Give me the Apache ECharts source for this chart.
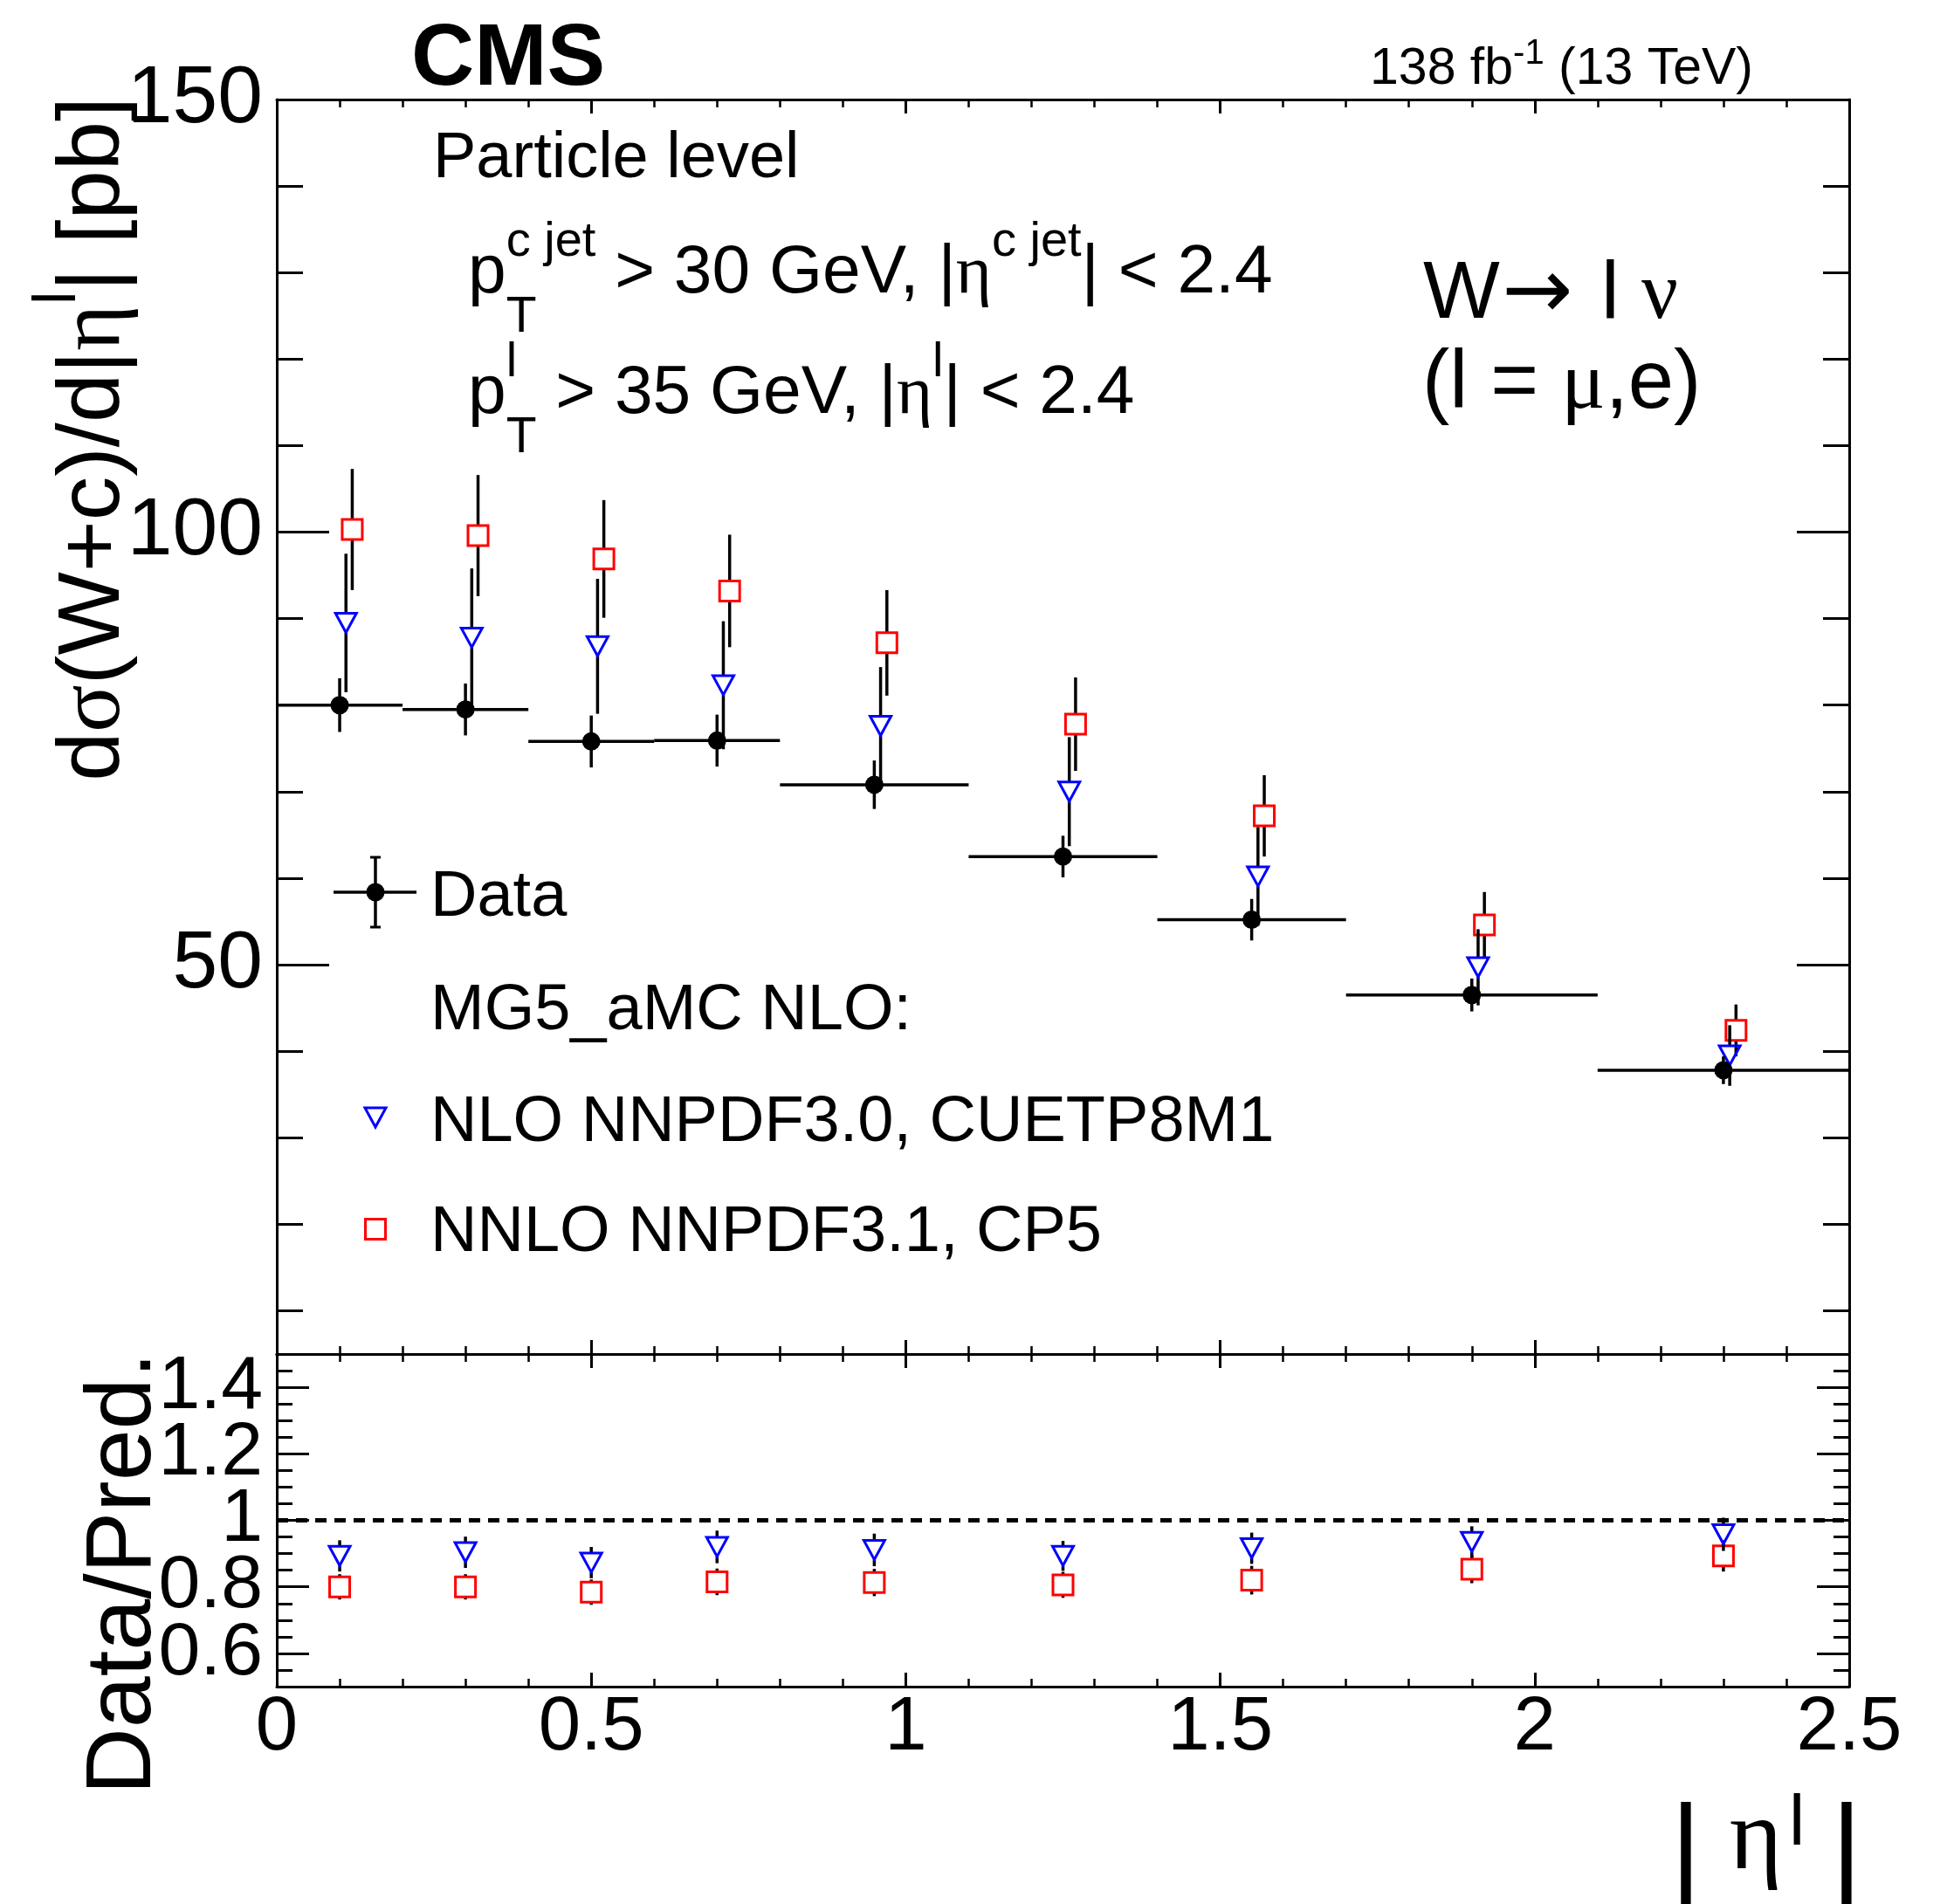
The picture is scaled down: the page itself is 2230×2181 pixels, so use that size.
<!DOCTYPE html>
<html><head><meta charset="utf-8">
<script src="https://cdn.jsdelivr.net/npm/echarts@6/dist/echarts.min.js"></script>
<style>html,body{margin:0;padding:0;background:#fff}#c{width:2230px;height:2181px}</style>
</head><body><div id="c"></div>
<script>
// ---------------- data ----------------
const binLo   = [0, 0.2, 0.4, 0.6, 0.8, 1.1, 1.4, 1.7, 2.1];
const binHi   = [0.2, 0.4, 0.6, 0.8, 1.1, 1.4, 1.7, 2.1, 2.5];
const binCtr  = [0.1, 0.3, 0.5, 0.7, 0.95, 1.25, 1.55, 1.9, 2.3];
const dataVal = [80.0, 79.5, 75.8, 75.9, 70.8, 62.5, 55.2, 46.5, 37.8];
const dataErr = [3.1, 3.0, 3.0, 3.0, 2.8, 2.4, 2.4, 1.9, 1.6];
const nloVal  = [89.5, 87.8, 86.8, 82.3, 77.6, 70.0, 60.2, 49.7, 39.5];
const nloErr  = [8.0, 8.0, 7.8, 7.4, 6.8, 6.3, 5.7, 4.4, 3.5];
const nnloVal = [100.3, 99.6, 96.9, 93.2, 87.2, 77.8, 67.2, 54.6, 42.4];
const nnloErr = [7.0, 7.0, 6.8, 6.5, 6.1, 5.4, 4.7, 3.8, 3.0];
const ratioNlo     = [0.893, 0.904, 0.873, 0.920, 0.911, 0.893, 0.916, 0.935, 0.958];
const ratioNloErr  = [0.047, 0.047, 0.047, 0.049, 0.049, 0.045, 0.047, 0.047, 0.050];
const ratioNnlo    = [0.800, 0.800, 0.784, 0.815, 0.813, 0.806, 0.820, 0.853, 0.893];
const ratioNnloErr = [0.038, 0.038, 0.038, 0.040, 0.041, 0.039, 0.043, 0.042, 0.047];
const refRatio = 1;
// axis ranges and tick values
const xRange = [0, 2.5];
const yRange = [5, 150];
const rRange = [0.5, 1.5];
const yLabelVals = [50, 100, 150];
const yMinorVals = [10, 20, 30, 40, 60, 70, 80, 90, 110, 120, 130, 140];
const rTickVals  = [0.6, 0.8, 1.0, 1.2, 1.4];
const rLabelValsA = [0.6, 1.0, 1.4];
const rLabelValsB = [0.8, 1.2];
const rMinorVals = [0.55, 0.65, 0.7, 0.75, 0.85, 0.9, 0.95, 1.05, 1.1, 1.15, 1.25, 1.3, 1.35, 1.45];

// ---------------- layout / styles ----------------
const L = 317, R = 2118, T1 = 114, B1 = 1551, B2 = 1932, W = 2230, H = 2181;
const SANS = '"Liberation Sans", Arial, Helvetica, sans-serif';
const SERIF = '"Liberation Serif", "Times New Roman", serif';
const DJV = '"DejaVu Sans", sans-serif';
const BLUE = '#0000ff', RED = '#ff0000';
const LW = 3.5;

const mctx = document.createElement('canvas').getContext('2d');
function fontStr(s, fam, w) { return (w || 'normal') + ' ' + s + 'px ' + fam; }
function measure(t, s, fam, w) { mctx.font = fontStr(s, fam, w); return mctx.measureText(t).width; }
function midOff(s, fam, w) {
  mctx.font = fontStr(s, fam, w);
  mctx.textBaseline = 'alphabetic';
  const a = mctx.measureText('H').actualBoundingBoxAscent;
  mctx.textBaseline = 'middle';
  const b = mctx.measureText('H').actualBoundingBoxAscent;
  mctx.textBaseline = 'alphabetic';
  return a - b;
}
function txt(t, x, base, s, fam, w, align, color) {
  return {type: 'text', x: x, y: base - midOff(s, fam, w), silent: true,
    style: {text: t, font: fontStr(s, fam, w), fill: color || '#000',
      align: align || 'left', verticalAlign: 'middle', textAlign: align || 'left', textVerticalAlign: 'middle'}};
}
function rich(pieces, x0, base, defS, defF) {
  const els = []; let x = x0, prevStart = x0, prevAdv = 0;
  for (const p of pieces) {
    const s = p.s || defS, f = p.f || defF;
    const w = measure(p.t, s, f, p.w);
    if (p.stack) {
      els.push(txt(p.t, prevStart, base + (p.dy || 0), s, f, p.w));
      prevAdv = Math.max(prevAdv, w); x = prevStart + prevAdv;
    } else {
      els.push(txt(p.t, x, base + (p.dy || 0), s, f, p.w));
      prevStart = x; prevAdv = w; x = x + w;
    }
  }
  return {els: els, width: x - x0};
}

// ---------------- axes ----------------
const lineBlack = {color: '#000', width: 3};
function xAx(grid, pos, labels) {
  return {type: 'value', gridIndex: grid, position: pos, min: xRange[0], max: xRange[1], interval: 0.5,
    axisLine: {show: true, onZero: false, lineStyle: lineBlack},
    axisTick: {show: true, inside: true, length: 16, lineStyle: lineBlack},
    minorTick: {show: true, splitNumber: 5, length: 9, lineStyle: {color: '#000', width: 2.5}},
    splitLine: {show: false}, minorSplitLine: {show: false},
    axisLabel: {show: labels, margin: 5, color: '#000', fontSize: 87, fontFamily: SANS,
      showMinLabel: true, showMaxLabel: true, hideOverlap: false}};
}
function yAx(grid, pos, rng, ticks, len, labelVals, lineShow, fs) {
  return {type: 'value', gridIndex: grid, position: pos, min: rng[0], max: rng[1], offset: 0,
    axisLine: {show: lineShow, onZero: false, lineStyle: lineBlack},
    axisTick: ticks ? {show: true, inside: true, length: len, customValues: ticks, lineStyle: lineBlack} : {show: false},
    splitLine: {show: false},
    axisLabel: labelVals ? {show: true, customValues: labelVals, margin: 16, color: '#000', fontSize: fs,
      fontFamily: SANS, showMinLabel: true, showMaxLabel: true, hideOverlap: false,
      formatter: v => String(+(+v).toFixed(2))} : {show: false}};
}

// ---------------- series ----------------
function dataSeries() {
  return {type: 'custom', xAxisIndex: 0, yAxisIndex: 0, z: 5, clip: false,
    data: binCtr.map((x, i) => [x, dataVal[i], dataErr[i], binLo[i], binHi[i]]),
    encode: {x: 0, y: 1},
    renderItem: (params, api) => {
      const x = api.value(0), y = api.value(1), e = api.value(2);
      const p = api.coord([x, y]), pl = api.coord([api.value(3), y]), ph = api.coord([api.value(4), y]);
      const pt = api.coord([x, y + e]), pb = api.coord([x, y - e]);
      return {type: 'group', children: [
        {type: 'line', shape: {x1: pl[0], y1: p[1], x2: ph[0], y2: p[1]}, style: {stroke: '#000', lineWidth: LW}},
        {type: 'line', shape: {x1: p[0], y1: pt[1], x2: p[0], y2: pb[1]}, style: {stroke: '#000', lineWidth: LW}},
        {type: 'circle', shape: {cx: p[0], cy: p[1], r: 10.5}, style: {fill: '#000'}}
      ]};
    }};
}
function markerEl(kind, cx, cy, color) {
  if (kind === 'tri') {
    const w = 24, h = 22;
    return {type: 'polygon', shape: {points: [[cx - w / 2, cy - h / 2], [cx + w / 2, cy - h / 2], [cx, cy + h / 2]]},
      style: {fill: 'none', stroke: color, lineWidth: 3}};
  }
  const s = 23;
  return {type: 'rect', shape: {x: cx - s / 2, y: cy - s / 2, width: s, height: s},
    style: {fill: 'none', stroke: color, lineWidth: 3}};
}
function predSeries(vals, errs, xi, yi, kind, color, dx) {
  return {type: 'custom', xAxisIndex: xi, yAxisIndex: yi, z: 4, clip: false,
    data: binCtr.map((x, i) => [x, vals[i], errs[i]]),
    encode: {x: 0, y: 1},
    renderItem: (params, api) => {
      const x = api.value(0), y = api.value(1), e = api.value(2);
      const p = api.coord([x, y]);
      const px = p[0] + dx;
      const pt = api.coord([x, y + e]), pb = api.coord([x, y - e]);
      const half = 11;
      const ch = [];
      if (pt[1] < p[1] - half) ch.push({type: 'line', shape: {x1: px, y1: pt[1], x2: px, y2: p[1] - half}, style: {stroke: '#000', lineWidth: LW}});
      if (pb[1] > p[1] + half) ch.push({type: 'line', shape: {x1: px, y1: p[1] + half, x2: px, y2: pb[1]}, style: {stroke: '#000', lineWidth: LW}});
      ch.push(markerEl(kind, px, p[1], color));
      return {type: 'group', children: ch};
    }};
}
function refLineSeries() {
  return {type: 'custom', xAxisIndex: 2, yAxisIndex: 4, z: 3, silent: true, clip: false,
    data: [[refRatio]],
    renderItem: (params, api) => {
      const v = api.value(0);
      const a = api.coord([xRange[0], v]), b = api.coord([xRange[1], v]);
      return {type: 'line', shape: {x1: a[0], y1: a[1], x2: b[0], y2: b[1]},
        style: {stroke: '#000', lineWidth: 5, lineDash: [13, 9]}};
    }};
}
const dxPx = (R - L) / (xRange[1] - xRange[0]); // px per unit of |eta|

// ---------------- graphic text ----------------
const G = [];
// CMS + lumi
G.push(txt('CMS', 471, 97, 100, SANS, 'bold'));
(function () {
  const pcs = [{t: '138 fb'}, {t: '-1', s: 40, dy: -23}, {t: ' (13 TeV)'}];
  const w = rich(pcs, 0, 0, 59, SANS).width;
  G.push(...rich(pcs, 2008 - w, 96, 59, SANS).els);
})();
G.push(txt('Particle level', 496, 203, 74, SANS));
G.push(...rich([{t: 'p'}, {t: 'T', s: 57, dy: 45}, {t: 'c jet', s: 56, dy: -42, stack: true},
  {t: ' > 30 GeV, |'}, {t: 'η', f: SERIF}, {t: 'c jet', s: 56, dy: -42}, {t: '| < 2.4'}], 536, 335, 78.5, SANS).els);
G.push(...rich([{t: 'p'}, {t: 'T', s: 57, dy: 45}, {t: 'l', s: 56, dy: -42, stack: true},
  {t: ' > 35 GeV, |'}, {t: 'η', f: SERIF}, {t: 'l', s: 56, dy: -42}, {t: '| < 2.4'}], 536, 473, 78.5, SANS).els);
// W -> l nu
G.push(txt('W', 1630, 364, 93, SANS));
G.push(txt('→', 1720, 364, 97, DJV));
G.push(txt('l', 1834, 364, 93, SANS));
G.push(txt('ν', 1880, 364, 93, SERIF));
G.push(...rich([{t: '(l = '}, {t: 'μ', f: SERIF}, {t: ',e)'}], 1629, 467, 94, SANS).els);
// legend
G.push({type: 'line', silent: true, shape: {x1: 382, y1: 1022, x2: 477, y2: 1022}, style: {stroke: '#000', lineWidth: LW}});
G.push({type: 'line', silent: true, shape: {x1: 430, y1: 982, x2: 430, y2: 1062}, style: {stroke: '#000', lineWidth: LW}});
G.push({type: 'line', silent: true, shape: {x1: 424, y1: 982, x2: 436, y2: 982}, style: {stroke: '#000', lineWidth: 3}});
G.push({type: 'line', silent: true, shape: {x1: 424, y1: 1062, x2: 436, y2: 1062}, style: {stroke: '#000', lineWidth: 3}});
G.push({type: 'circle', silent: true, shape: {cx: 430, cy: 1022, r: 10.5}, style: {fill: '#000'}});
G.push(Object.assign(markerEl('tri', 430, 1280, BLUE), {silent: true}));
G.push(Object.assign(markerEl('sq', 430, 1408, RED), {silent: true}));
G.push(txt('Data', 493, 1049, 74, SANS));
G.push(txt('MG5_aMC NLO:', 493, 1179, 74, SANS));
G.push(txt('NLO NNPDF3.0, CUETP8M1', 493, 1307, 74, SANS));
G.push(txt('NNLO NNPDF3.1, CP5', 493, 1433, 74, SANS));
// y title (rotated)
(function () {
  const pcs = [{t: 'd'}, {t: 'σ', f: SERIF}, {t: '(W+c)/d|'}, {t: 'η', f: SERIF}, {t: 'l', s: 68, dy: -50}, {t: '| [pb]'}];
  const r = rich(pcs, 0, 0, 101, SANS);
  G.push({type: 'group', x: 136, y: 111 + r.width, rotation: Math.PI / 2, children: r.els});
})();
(function () {
  const r = rich([{t: 'Data/Pred.'}], 0, 0, 106, SANS);
  G.push({type: 'group', x: 172, y: 1549 + r.width, rotation: Math.PI / 2, children: r.els});
})();
// x title
G.push(txt('|', 1931, 2165, 140, SANS, 'normal', 'center'));
G.push(txt('η', 2011, 2140, 116, SERIF, 'normal', 'center'));
G.push(txt('l', 2058, 2113, 82, SANS, 'normal', 'center'));
G.push(txt('|', 2115, 2165, 140, SANS, 'normal', 'center'));

const option = {
  animation: false,
  backgroundColor: '#fff',
  grid: [
    {left: L, top: T1, width: R - L, height: B1 - T1, outerBoundsMode: 'none', containLabel: false, show: false},
    {left: L, top: B1, width: R - L, height: B2 - B1, outerBoundsMode: 'none', containLabel: false, show: false}
  ],
  xAxis: [xAx(0, 'bottom', false), xAx(0, 'top', false), xAx(1, 'bottom', true), xAx(1, 'top', false)],
  yAxis: [
    yAx(0, 'left', yRange, yLabelVals, 60, yLabelVals, true, 93),
    yAx(0, 'left', yRange, yMinorVals, 30, null, false),
    yAx(0, 'right', yRange, yLabelVals, 60, null, true),
    yAx(0, 'right', yRange, yMinorVals, 30, null, false),
    yAx(1, 'left', rRange, rTickVals, 37, rLabelValsA, true, 86),
    yAx(1, 'left', rRange, rMinorVals, 18, null, false),
    yAx(1, 'right', rRange, rTickVals, 37, null, true),
    yAx(1, 'right', rRange, rMinorVals, 18, null, false),
    yAx(1, 'left', rRange, null, 0, rLabelValsB, false, 86)
  ],
  series: [
    predSeries(nnloVal, nnloErr, 0, 0, 'sq', RED, 0.02 * dxPx),
    predSeries(nloVal, nloErr, 0, 0, 'tri', BLUE, 0.01 * dxPx),
    dataSeries(),
    refLineSeries(),
    predSeries(ratioNnlo, ratioNnloErr, 2, 4, 'sq', RED, 0),
    predSeries(ratioNlo, ratioNloErr, 2, 4, 'tri', BLUE, 0)
  ],
  graphic: {elements: G}
};
const chart = echarts.init(document.getElementById('c'), null, {renderer: 'canvas', width: W, height: H});
chart.setOption(option);
</script></body></html>
